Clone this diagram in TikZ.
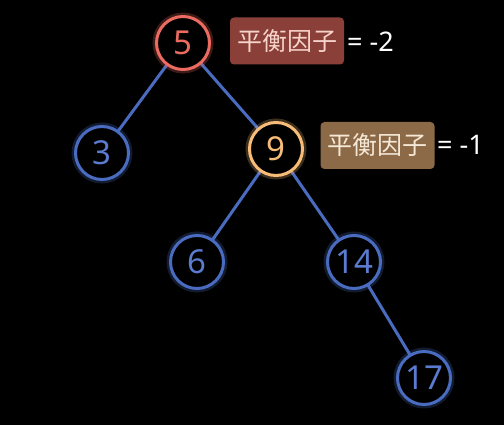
\documentclass[tikz,border=0pt]{standalone}
\usepackage{fontspec}
\setmainfont{Noto Sans}
\newfontfamily\cjk{Noto Sans CJK SC}
\definecolor{bblue}{HTML}{4A6CC0}
\definecolor{tblue}{HTML}{5B7BD0}
\definecolor{rred}{HTML}{EC6B60}
\definecolor{oorange}{HTML}{F7BC78}
\definecolor{boxred}{HTML}{8A4038}
\definecolor{boxbrown}{HTML}{8C6A48}
\definecolor{txtpink}{HTML}{F6D2CA}
\definecolor{txtcream}{HTML}{F5E8D6}
\tikzset{
  x=1pt,y=-1pt,
  tnode/.style={circle,minimum size=53pt,inner sep=0pt,line width=3pt,font=\fontsize{33}{33}\selectfont},
  bluenode/.style={tnode,draw=bblue,text=tblue},
  edge/.style={draw=bblue,line width=3pt},
  glow/.style={draw=#1,opacity=0.25,line width=8pt},
  tag/.style={rounded corners=4pt,inner sep=3pt,minimum height=47pt,minimum width=114pt,font=\cjk\fontsize{25}{25}\selectfont},
  eqtext/.style={text=white,anchor=west,inner sep=0pt,font=\fontsize{27}{27}\selectfont}
}
\begin{document}
\begin{tikzpicture}
\fill[black] (0,0) rectangle (504,425);
\useasboundingbox (0,0) rectangle (504,425);
\coordinate (c5) at (183,43);
\coordinate (c3) at (102,153);
\coordinate (c9) at (276,149);
\coordinate (c6) at (197,262);
\coordinate (c14) at (354,262);
\coordinate (c17) at (424,378);
% edges
\draw[edge] (c5) -- (c3);
\draw[edge] (c5) -- (c9);
\draw[edge] (c9) -- (c6);
\draw[edge] (c9) -- (c14);
\draw[edge] (c14) -- (c17);
% glows
\foreach \c in {c3,c6,c14,c17} \draw[glow=bblue] (\c) circle (26.5);
\draw[glow=rred] (c5) circle (26.5);
\draw[glow=oorange] (c9) circle (26.5);
% nodes
\node[tnode,draw=rred,text=rred,fill=black] (n5) at (c5) {5};
\node[bluenode,fill=black] (n3) at (c3) {3};
\node[tnode,draw=oorange,text=oorange,fill=black] (n9) at (c9) {9};
\node[bluenode,fill=black] (n6) at (c6) {6};
\node[bluenode,fill=black] (n14) at (c14) {14};
\node[bluenode,fill=black] (n17) at (c17) {17};
% tags
\node[tag,fill=boxred,text=txtpink] (t1) at (287,41) {平衡因子};
\node[eqtext] (e1) at (347,42) {= -2};
\node[tag,fill=boxbrown,text=txtcream] (t2) at (377.5,145.5) {平衡因子};
\node[eqtext] (e2) at (437,145) {= -1};
\end{tikzpicture}
\end{document}
